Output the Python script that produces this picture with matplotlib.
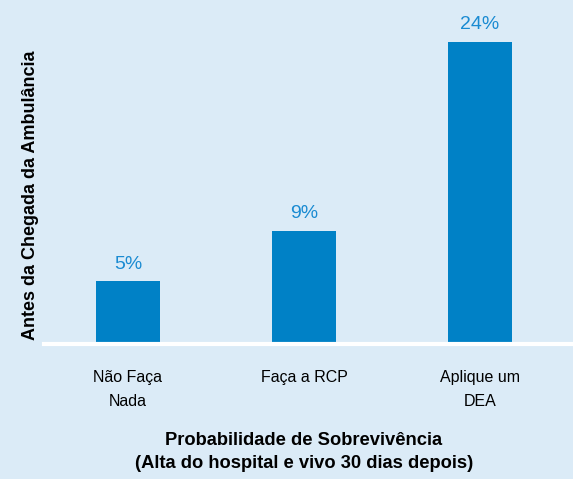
import matplotlib.pyplot as plt

categories = ['Não Faça\nNada', 'Faça a RCP', 'Aplique um\nDEA']
values = [5, 9, 24]
value_labels = ['5%', '9%', '24%']

bg = '#dbebf7'
bar_color = '#0081c6'
label_color = '#1a8bd2'
sans = ['Liberation Sans', 'DejaVu Sans']

fig = plt.figure(figsize=(5.73, 4.79), dpi=100, facecolor=bg)
ax = fig.add_axes([44 / 573, 1 - 344 / 479, 529 / 573, 334 / 479])
ax.set_facecolor(bg)

x = range(len(categories))
ax.bar(x, values, width=0.365, color=bar_color, zorder=2)
for xi, v, lab in zip(x, values, value_labels):
    ax.annotate(lab, (xi, v), xytext=(0, 6), textcoords='offset points',
                ha='center', va='bottom', fontsize=14, color=label_color,
                family=sans)

ax.set_xlim(-0.477, 2.528)
ax.set_ylim(0, 26.5)
ax.set_yticks([])
ax.set_xticks(list(x))
ax.set_xticklabels(categories, fontsize=11.5, family=sans, linespacing=1.75)
ax.tick_params(axis='x', length=0, pad=19)
for s in ['top', 'right', 'left']:
    ax.spines[s].set_visible(False)
ax.spines['bottom'].set_color('white')
ax.spines['bottom'].set_linewidth(3)
ax.spines['bottom'].set_zorder(3)

fig.text(304 / 573, 1 - 452 / 479, 'Probabilidade de Sobrevivência\n(Alta do hospital e vivo 30 dias depois)',
         ha='center', va='center', fontsize=13.2, fontweight='bold', family=sans,
         linespacing=1.4)
fig.text(31 / 573, 1 - 195 / 479, 'Antes da Chegada da Ambulância', rotation=90,
         ha='center', va='center', fontsize=13, fontweight='bold', family=sans)

fig.savefig('out.png', dpi=100, facecolor=bg)
